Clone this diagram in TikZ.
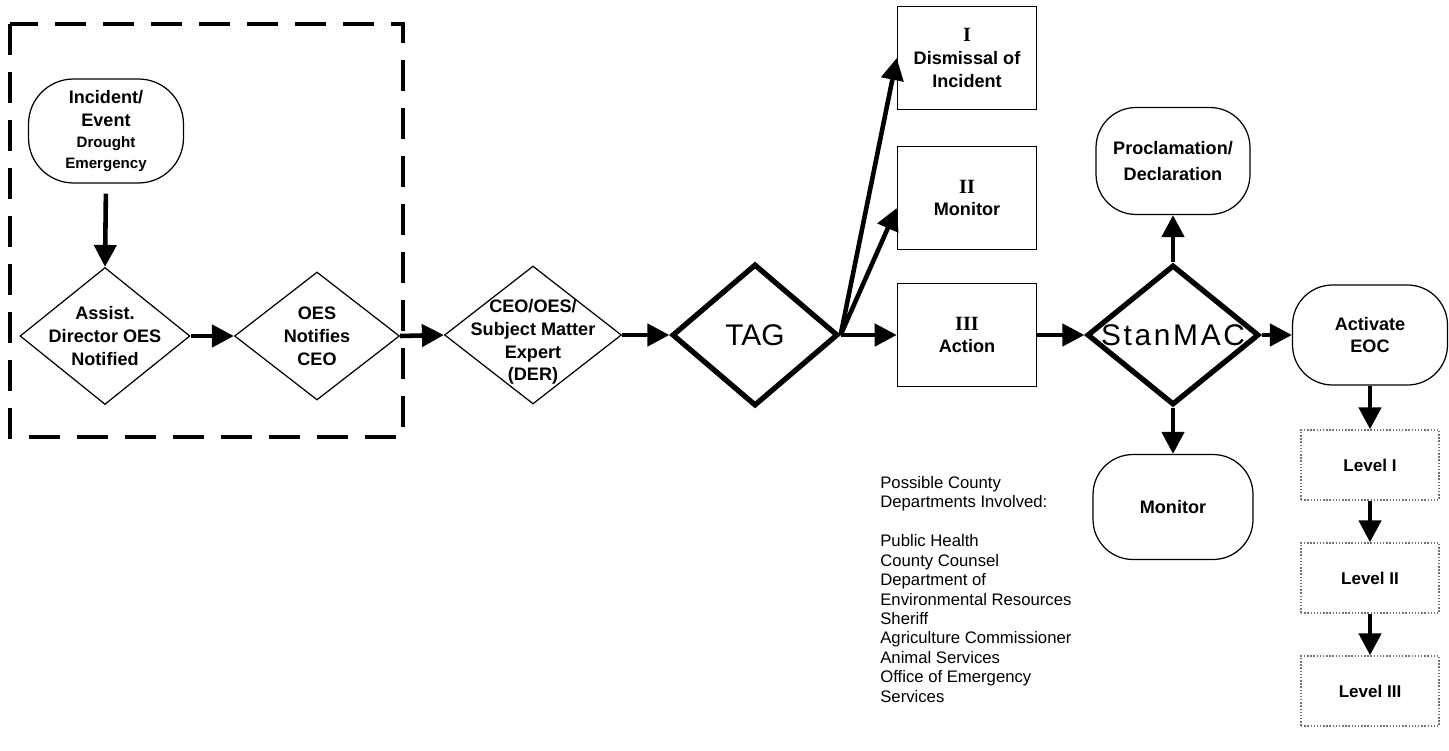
\documentclass[tikz,border=0pt]{standalone}
\usepackage{fontspec}
\setmainfont{Liberation Sans}
\newfontfamily\romfont{Liberation Serif}
\usetikzlibrary{shapes.geometric,arrows.meta}

\newcommand{\lbl}{\fontsize{10.3}{13}\selectfont\bfseries}
\newcommand{\sml}{\fontsize{8.6}{10}\selectfont\bfseries}
\newcommand{\rom}[1]{{\romfont\fontsize{11.5}{13}\selectfont\bfseries #1}}

\tikzset{
  flow/.style={line width=2.6pt,-{Triangle[length=0.44cm,width=0.44cm]}},
  dia/.style={diamond,draw,line width=0.7pt,inner sep=0pt},
  bigdia/.style={diamond,draw,line width=3pt,inner sep=0pt},
  dtext/.style={align=center,font=\lbl,inner sep=0pt},
  bigtext/.style={font=\fontsize{17}{19}\selectfont,inner sep=0pt},
  oval/.style={draw,rectangle,rounded corners=0.8cm,line width=0.7pt,align=center,font=\lbl},
  sqbox/.style={draw,rectangle,line width=0.9pt,minimum width=2.78cm,minimum height=2.06cm,align=center,font=\lbl},
  lvlbox/.style={draw=black!55,densely dotted,line width=0.8pt,minimum width=2.76cm,minimum height=1.4cm,font=\fontsize{9.7}{12}\selectfont\bfseries}
}

\begin{document}
\begin{tikzpicture}[x=0.02cm,y=-0.02cm]
\useasboundingbox (0,0) rectangle (1449,750);

% dashed frame
\draw[line width=2.2pt,dash pattern=on 0.62cm off 0.34cm] (10,24) rectangle (403,437);

% first steps
\node[oval,rounded corners=0.9cm,minimum width=3.1cm,minimum height=2.08cm] (incident) at (106,131) {Incident/\\Event\\[-1pt]{\sml Drought}\\[-1pt]{\sml Emergency}};
\node[dia,minimum width=3.4cm,minimum height=2.74cm,label={[dtext]center:Assist.\\Director OES\\Notified}] (assist) at (105,336) {};
\node[dia,minimum width=3.3cm,minimum height=2.56cm,label={[dtext]center:OES\\Notifies\\CEO}] (oesnote) at (317,336) {};
\node[dia,minimum width=3.54cm,minimum height=2.76cm,label={[dtext,yshift=-0.14cm]center:CEO/OES/\\Subject Matter\\Expert\\(DER)}] (ceo) at (533,335) {};
\node[bigdia,minimum width=3.32cm,minimum height=2.84cm,label={[bigtext]center:TAG}] (tag) at (755,335) {};

% levels out of TAG
\node[sqbox] (dismiss) at (967,58) {\rom{I}\\Dismissal of\\Incident};
\node[sqbox] (watch) at (967,198) {\rom{II}\\Monitor};
\node[sqbox] (action) at (967,335) {\rom{III}\\Action};

% StanMAC and what follows
\node[bigdia,minimum width=3.44cm,minimum height=2.8cm,label={[bigtext]center:\addfontfeature{LetterSpace=9}StanMAC}] (stanmac) at (1173,335) {};
\node[oval,minimum width=3.08cm,minimum height=2.14cm] (procl) at (1173,161) {Proclamation/\\[2pt]Declaration};
\node[oval,minimum width=3.2cm,minimum height=2.1cm] (monitor) at (1173,507) {Monitor};
\node[oval,minimum width=3.1cm,minimum height=2cm] (activate) at (1370,335) {Activate\\EOC};
\node[lvlbox] (lvla) at (1370,465) {Level I};
\node[lvlbox] (lvlb) at (1370,578) {Level II};
\node[lvlbox] (lvlc) at (1370,691) {Level III};

\node[anchor=north west,align=left,inner sep=0pt,font=\fontsize{9.5}{11.06}\selectfont] (depts) at (880,476)
  {Possible County\\Departments Involved:\\[11.06pt]Public Health\\County Counsel\\Department of\\Environmental Resources\\Sheriff\\Agriculture Commissioner\\Animal Services\\Office of Emergency\\Services};

% connectors
\draw[flow,shorten <=0.2cm] (incident.south) -- (assist.north);
\draw[flow] (assist.east) -- (oesnote.west);
\draw[flow] (oesnote.east) -- (ceo.west);
\draw[flow] (ceo.east) -- (tag.west);
\draw[flow] (tag.east) -- (dismiss.west);
\draw[flow] (tag.east) -- ([yshift=-0.2cm]watch.west);
\draw[flow] (tag.east) -- (action.west);
\draw[flow] (action.east) -- (stanmac.west);
\draw[flow] (stanmac.north) -- (procl.south);
\draw[flow] (stanmac.south) -- (monitor.north);
\draw[flow] (stanmac.east) -- (activate.west);
\draw[flow] (activate.south) -- (lvla.north);
\draw[flow] (lvla.south) -- (lvlb.north);
\draw[flow] (lvlb.south) -- (lvlc.north);
\end{tikzpicture}
\end{document}
